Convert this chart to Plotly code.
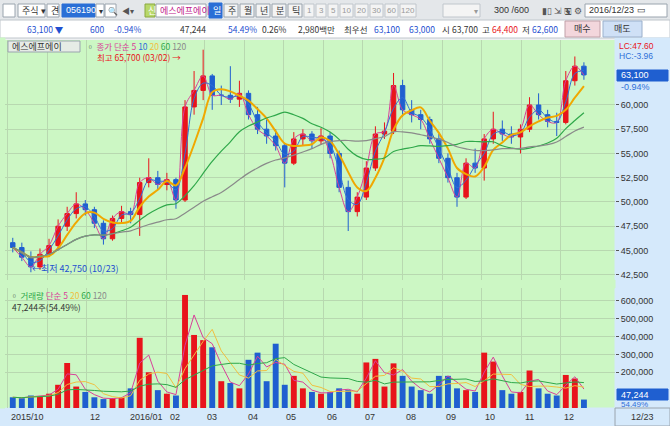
import pandas as pd
import plotly.graph_objects as go

weeks = pd.date_range("2015-10-05", "2016-12-19", freq="W-MON")
opens = [45800,45300,44300,43300,44600,45500,47500,48800,49800,49200,47800,46200,48300,49000,48700,52000,52500,51800,52300,50200,59800,61500,63000,61000,61000,60600,61200,59000,57500,56800,55800,54000,56500,57000,56300,56800,55000,51500,49000,50500,53500,57000,57300,62000,59500,59000,58500,56500,54500,52500,50500,54000,53500,56500,57500,57000,56700,57500,60000,59000,58300,58200,62500,64000]
highs = [46300,45800,44900,45200,46200,48200,49500,51000,50200,49500,48100,48600,49600,49400,52500,54500,53200,53000,52500,60500,63500,65700,63200,62000,64000,62500,61500,59800,58500,57500,56000,57200,57500,57300,57600,57200,55300,52200,51000,54200,57800,58200,63300,62600,60500,59500,58800,57000,55000,53000,54500,55500,57000,59300,58400,57800,58000,60800,61200,59500,59200,63500,65000,64400]
lows = [44800,43900,42750,43000,44300,45000,47000,48300,48600,47300,45600,46000,47900,47800,46500,51500,51300,51200,49300,50000,59000,60500,59500,60000,60200,59800,58500,57000,56000,55300,51500,53800,55800,55500,55900,54500,51000,47000,48500,50200,53200,56500,57000,58800,58200,57500,56000,54000,52000,49500,50300,53000,52200,56000,56300,56000,55000,57200,58500,57700,56800,58000,62000,62600]
closes = [45300,44300,43300,44600,45500,47500,48800,49800,49200,47800,46200,48300,49000,48700,52000,52500,51800,52300,50200,59800,61500,63000,61000,61000,60600,61200,59000,57500,56800,55800,54000,56500,57000,56300,56800,55000,51500,49000,50500,53500,57000,57300,62000,59500,59000,58500,56500,54500,52500,50500,54000,53500,56500,57500,57000,56700,57500,60000,59000,58300,58200,62500,64000,63100]
volumes = [60000,55000,70000,65000,80000,130000,252000,120000,90000,60000,50000,55000,60000,110000,393000,200000,100000,80000,70000,633000,409000,380000,340000,150000,140000,110000,270000,310000,150000,360000,130000,180000,110000,90000,80000,90000,110000,100000,80000,255000,275000,120000,250000,180000,120000,100000,80000,180000,180000,110000,100000,90000,310000,260000,100000,80000,90000,210000,110000,80000,70000,185000,165000,47244]
price_ticks = [42500,45000,47500,50000,52500,55000,57500,60000]
vol_ticks = [200000,300000,400000,500000,600000]
month_ticks = ["2015-10-01","2015-11-01","2015-12-01","2016-01-01","2016-02-01","2016-03-01","2016-04-01","2016-05-01","2016-06-01","2016-07-01","2016-08-01","2016-09-01","2016-10-01","2016-11-01","2016-12-01"]
month_labels = ["2015/10","","12","2016/01","02","03","04","05","06","07","08","09","10","11","12"]

W, H = 670, 426
def py(y): return 1 - y / H
def px(x): return x / W

s = pd.Series(closes, index=weeks)
v = pd.Series(volumes, index=weeks)
fig = go.Figure()
fig.add_trace(go.Candlestick(x=weeks, open=opens, high=highs, low=lows, close=closes,
    increasing=dict(line=dict(color="#e8141b", width=1), fillcolor="#e8141b"),
    decreasing=dict(line=dict(color="#1f5fd0", width=1), fillcolor="#1f5fd0"),
    whiskerwidth=0, xaxis="x", yaxis="y", showlegend=False))
for w, c, wd in [(1, "#d9409a", 1), (2, "#2f6fd8", 1), (4, "#f0a800", 2), (12, "#2fa84a", 1.2), (24, "#8a8a8a", 1.2)]:
    fig.add_trace(go.Scatter(x=weeks, y=s.rolling(w, min_periods=1).mean(), mode="lines",
        line=dict(color=c, width=wd, shape="spline"), xaxis="x", yaxis="y", showlegend=False, hoverinfo="skip"))
bar_colors = ["#e8141b" if c >= o else "#1f5fd0" for o, c in zip(opens, closes)]
fig.add_trace(go.Bar(x=weeks, y=volumes, marker_color=bar_colors, marker_line_width=0,
    xaxis="x2", yaxis="y2", showlegend=False))
for w, c in [(2, "#d9409a"), (4, "#f0c040"), (12, "#2fa84a")]:
    fig.add_trace(go.Scatter(x=weeks, y=v.rolling(w, min_periods=1).mean(), mode="lines",
        line=dict(color=c, width=1), xaxis="x2", yaxis="y2", showlegend=False, hoverinfo="skip"))

xr = ["2015-09-29", "2017-01-12"]
grid = "#b8d8b0"
tf = dict(size=9, family="Liberation Sans", color="#333")
fig.update_layout(
    width=W, height=H, margin=dict(l=0, r=0, t=0, b=0),
    paper_bgcolor="#eef0f2", plot_bgcolor="#ccf7c4", bargap=0.35,
    font=dict(family="Noto Sans CJK KR", size=10, color="#333"),
    xaxis=dict(domain=[px(5), px(615)], range=xr, type="date", anchor="y", showticklabels=False,
               tickvals=month_ticks, showgrid=True, gridcolor=grid, rangeslider=dict(visible=False), zeroline=False),
    yaxis=dict(domain=[py(280), py(40)], range=[41950, 66700], side="right", tickvals=price_ticks,
               tickformat=",", showgrid=True, gridcolor=grid, ticks="outside", ticklen=3, tickcolor="#555",
               tickfont=tf, zeroline=False),
    xaxis2=dict(domain=[px(5), px(615)], range=xr, type="date", anchor="y2", tickvals=month_ticks,
                showticklabels=False, showgrid=True, gridcolor=grid, zeroline=False),
    yaxis2=dict(domain=[py(408), py(288)], range=[0, 672000], side="right", tickvals=vol_ticks,
                tickformat=",", showgrid=True, gridcolor=grid, ticks="outside", ticklen=3, tickcolor="#555",
                tickfont=tf, zeroline=False),
)

shapes = []
def box(x0, x1, y0, y1, fill="#ffffff", line="#9aa4ae", layer="below"):
    shapes.append(dict(type="rect", xref="paper", yref="paper", x0=px(x0), x1=px(x1), y0=py(y1), y1=py(y0),
                       fillcolor=fill, line=dict(color=line, width=1), layer=layer))
anns = []
def txt(x, y, t, color="#333", size=10, anchor="left", bg=None, family="Noto Sans CJK KR"):
    a = dict(x=px(x), y=py(y), xref="paper", yref="paper", text=t, showarrow=False, xanchor=anchor,
             yanchor="middle", font=dict(size=size, color=color, family=family))
    if bg: a["bgcolor"] = bg
    anns.append(a)

# background strips
box(0, 670, 0, 20, "#e4e7ea", "#e4e7ea")
box(0, 670, 20, 38, "#ffffff", "#c0c6cc")
box(615, 670, 38, 408, "#d5e9fb", "#d5e9fb")
box(0, 670, 408, 426, "#d5e9fb", "#d5e9fb")
box(0, 615, 280, 288, "#ccf7c4", "#ccf7c4")
box(0, 5, 38, 408, "#ccf7c4", "#ccf7c4")
box(615, 670, 408, 426, "#d5e9fb", "#9aa4ae")
# toolbar
box(3, 15, 4, 17); box(18, 45, 4, 17); box(47, 59, 4, 17); box(62, 95, 4, 17, "#2a6fd6", "#2a6fd6")
box(96, 104, 4, 17); box(105, 116, 4, 17); box(145, 155, 4, 17, "#b8d86a", "#8aa840"); box(156, 206, 4, 17)
box(209, 222, 3, 18, "#2a6fd6", "#2a6fd6")
for x0 in [224, 240, 256, 272, 288]:
    box(x0, x0 + 14, 4, 17, "#f4f4f4")
for x0, w in [(304, 10), (316, 10), (328, 10), (340, 13), (355, 13), (370, 13), (385, 13), (400, 16)]:
    box(x0, x0 + w, 4, 17, "#f4f4f4", "#c0c6cc")
box(443, 480, 4, 17, "#f4f4f4", "#c0c6cc"); box(585, 667, 4, 17)
box(565, 600, 21, 37, "#f3d6dc", "#c0a0a8"); box(603, 642, 21, 37, "#cfe0f6", "#9ab0cc")
txt(20, 10.5, "주식 ▾", size=9); txt(49, 10.5, "견", size=9); txt(64, 10.5, "056190", "#ffffff", 9, family="Liberation Sans")
txt(97, 10.5, "▾", size=8); txt(106, 10.5, "🔍", "#555", 8); txt(120, 10.5, "◀▾", "#555", 8)
txt(146, 10.5, "신", "#ffffff", 9); txt(158, 10.5, "에스에프에이", "#c0208a", 9)
txt(211, 10.5, "일", "#ffffff", 9)
for x0, t in zip([225, 241, 257, 273, 289], ["주", "월", "년", "분", "틱"]):
    txt(x0 + 1, 10.5, t, size=9)
for (x0, w), t in zip([(304, 10), (316, 10), (328, 10), (340, 13), (355, 13), (370, 13), (385, 13), (400, 16)],
                      ["1", "3", "5", "10", "20", "30", "60", "120"]):
    txt(x0 + w / 2, 10.5, t, "#999", 8, "center", family="Liberation Sans")
txt(472, 10.5, "▾", "#999", 8); txt(492, 10.5, "300 /600", size=9, family="Liberation Sans")
txt(540, 10.5, "▮▯ ⇲ 🖫 ⚙", "#555", 9)
txt(587, 10.5, "2016/12/23 ▭", size=9, family="Liberation Sans")
# info row
for x, t, c in [(25, "63,100 ▼", "#1f4fd0"), (88, "600", "#1f4fd0"), (112, "-0.94%", "#1f4fd0"), (178, "47,244", "#333"),
                (226, "54.49%", "#1f4fd0"), (260, "0.26%", "#333"), (296, "2,980백만", "#333"), (342, "최우선", "#333"),
                (372, "63,100", "#1f4fd0"), (407, "63,000", "#1f4fd0"), (440, "시", "#333"), (450, "63,700", "#333"),
                (480, "고", "#333"), (490, "64,400", "#e8141b"), (520, "저", "#333"), (530, "62,600", "#1f4fd0")]:
    txt(x, 29, t, c, 8.5)
txt(582, 29, "매수", "#333", 9, "center"); txt(622, 29, "매도", "#333", 9, "center")
# price panel labels
box(8, 80, 41, 52, "#e6ece6", "#9aa4ae", "above")
txt(10, 46.5, "에스에프에이", "#333", 9)
txt(84, 46, "▫ <span style='color:#d9409a'>종가 단순 5</span> <span style='color:#2f6fd8'>10</span> <span style='color:#f0c040'>20</span> <span style='color:#2fa84a'>60</span> <span style='color:#8a8a8a'>120</span>", size=8.5)
txt(95, 57, "최고 65,700 (03/02) →", "#e8141b", 8.5)
txt(30, 268, "←최저 42,750 (10/23)", "#1f4fd0", 9)
txt(617, 46, "LC:47.60", "#e8141b", 8.5, family="Liberation Sans")
txt(617, 56, "HC:-3.96", "#2f6fd8", 8.5, family="Liberation Sans")
box(617, 668, 70, 81, "#1f5fd0", "#1f5fd0", "above")
txt(619, 75.5, "63,100", "#ffffff", 9, family="Liberation Sans")
txt(619, 87, "-0.94%", "#2f6fd8", 9, family="Liberation Sans")
# volume labels
txt(8, 294.5, "▫ <span style='color:#2fa84a'>거래량</span> <span style='color:#d9409a'>단순 5</span> <span style='color:#f0c040'>20</span> <span style='color:#2fa84a'>60</span> <span style='color:#8a8a8a'>120</span>", size=8.5)
txt(10, 307, "47,244주(54.49%)", "#333", 8.5)
box(617, 668, 389, 400, "#1f5fd0", "#1f5fd0", "above")
txt(619, 394.5, "47,244", "#ffffff", 9, family="Liberation Sans")
txt(619, 404, "54.49%", "#2f6fd8", 8, family="Liberation Sans")
txt(642, 417, "12/23", "#333", 9, "center", family="Liberation Sans")
for d, lab in zip(month_ticks, month_labels):
    if lab:
        anns.append(dict(x=d, xref="x2", y=py(417), yref="paper", text=lab, showarrow=False,
                         xanchor="left", yanchor="middle", xshift=1, font=tf))

fig.update_layout(shapes=shapes, annotations=anns)
fig.write_html("out.html", config={"displayModeBar": False},
               post_script="document.body.style.margin='0';document.body.style.overflow='hidden';")
